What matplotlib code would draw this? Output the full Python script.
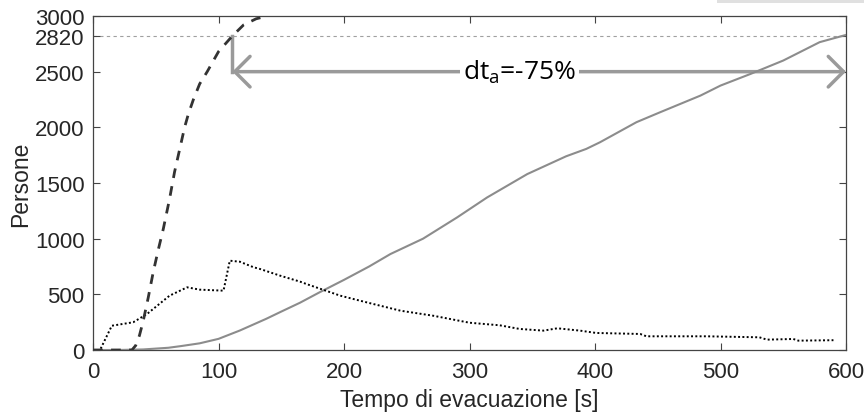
import matplotlib
matplotlib.use("Agg")
from matplotlib import pyplot as plt
from matplotlib.patches import Rectangle

# dati
#==============================================#
# curva tratteggiata (scenario migliorato)
t_b = [0, 10, 20, 31, 34, 37, 40, 44, 48, 52, 56, 61, 65, 69, 73, 76, 80, 85, 91, 100, 111, 120, 130, 139]
n_b = [0, 0, 0, 0, 40, 130, 260, 470, 700, 900, 1087, 1357, 1600, 1800, 2000, 2120, 2250, 2390, 2500, 2680, 2820,
       2920, 2975, 3000]

# curva continua grigia (scenario base)
t_a = [0, 20, 40, 60, 70, 85, 100, 117, 138, 150, 165, 180, 200, 220, 237, 263, 290, 314, 346, 377,
       393, 404, 433, 452, 484, 500, 524, 550, 579, 600]
n_a = [0, 0, 5, 20, 35, 60, 100, 175, 280, 345, 425, 515, 630, 750, 862, 1000, 1190, 1370, 1580, 1740,
       1806, 1866, 2046, 2136, 2285, 2375, 2480, 2600, 2765, 2830]

# curva punteggiata
t_c = [0, 5.6, 15, 32, 43, 61, 75, 85, 104, 109, 117, 128, 133, 149, 165, 170, 197, 218, 245, 271,
       300, 324, 340, 359, 370, 388, 401, 436, 441, 489, 531, 537, 558, 562, 590]
n_c = [0, 0, 218, 249, 323, 488, 563, 542, 533, 802, 793, 743, 728, 668, 614, 593, 488, 428, 353, 308,
       245, 222, 189, 174, 195, 174, 153, 144, 123, 123, 114, 93, 99, 84, 88]

Y_TICKS = [0, 500, 1000, 1500, 2000, 2500, 2820, 3000]
X_TICKS = [0, 100, 200, 300, 400, 500, 600]
N_RIF = 2820
T_START = 111
Y_FRECCIA = 2500
ETICHETTA = "dt$_\\mathregular{a}$=-75%"
#==============================================#

plt.rcParams['font.family'] = ['Liberation Sans', 'DejaVu Sans']
plt.rcParams['mathtext.default'] = 'regular'

fig = plt.figure(figsize=(8.64, 4.14), dpi=100)
ax = fig.add_axes([93/864, 1-351/414, (846-93)/864, (351-17)/414])

GRIGIO = "#8c8c8c"
ax.axhline(N_RIF, color="#a0a0a0", lw=0.8, ls=(0, (3, 3)), zorder=1)
ax.plot(t_a, n_a, color=GRIGIO, lw=1.5, zorder=3)
ax.plot(t_c, n_c, color="black", lw=1.4, ls=(0, (1, 1.2)), zorder=3)
ax.plot(t_b, n_b, color="#333333", lw=2.0, ls=(0, (3.5, 3)), zorder=4)

# freccia doppia e linea verticale
ax.plot([T_START, T_START], [N_RIF, Y_FRECCIA], color="#9a9a9a", lw=2.5, zorder=2)
ax.annotate("", xy=(600, Y_FRECCIA), xytext=(T_START, Y_FRECCIA),
            arrowprops=dict(arrowstyle="<->,head_length=0.55,head_width=0.55",
                            color="#9a9a9a", lw=2.5, mutation_scale=20,
                            shrinkA=0, shrinkB=0), zorder=2, annotation_clip=False)
ax.text(340, Y_FRECCIA, ETICHETTA, ha="center", va="center", fontsize=19,
        family=['Open Sans', 'DejaVu Sans'], color="black",
        bbox=dict(facecolor="white", edgecolor="none", pad=2), zorder=5)

ax.set_xlim(0, 600)
ax.set_ylim(0, 3000)
ax.set_xticks(X_TICKS)
ax.set_yticks(Y_TICKS)
ax.tick_params(direction="in", length=5, width=0.8, color="#444444", labelsize=16,
               labelcolor="#262626", top=True, right=True)
ax.tick_params(axis="x", pad=8)
ax.tick_params(axis="y", pad=6)
for sp in ax.spines.values():
    sp.set_color("#444444")
    sp.set_linewidth(0.9)

ax.set_xlabel("Tempo di evacuazione [s]", fontsize=16.5, color="#262626", labelpad=4)
ax.set_ylabel("Persone", fontsize=16.5, color="#262626", labelpad=2)

# barra grigia in alto a destra
fig.patches.append(Rectangle((717/864, 1-4/414), (864-717)/864, 4/414,
                             transform=fig.transFigure, facecolor="#e0e0e0",
                             edgecolor="none"))

fig.savefig("out.png", dpi=100)
